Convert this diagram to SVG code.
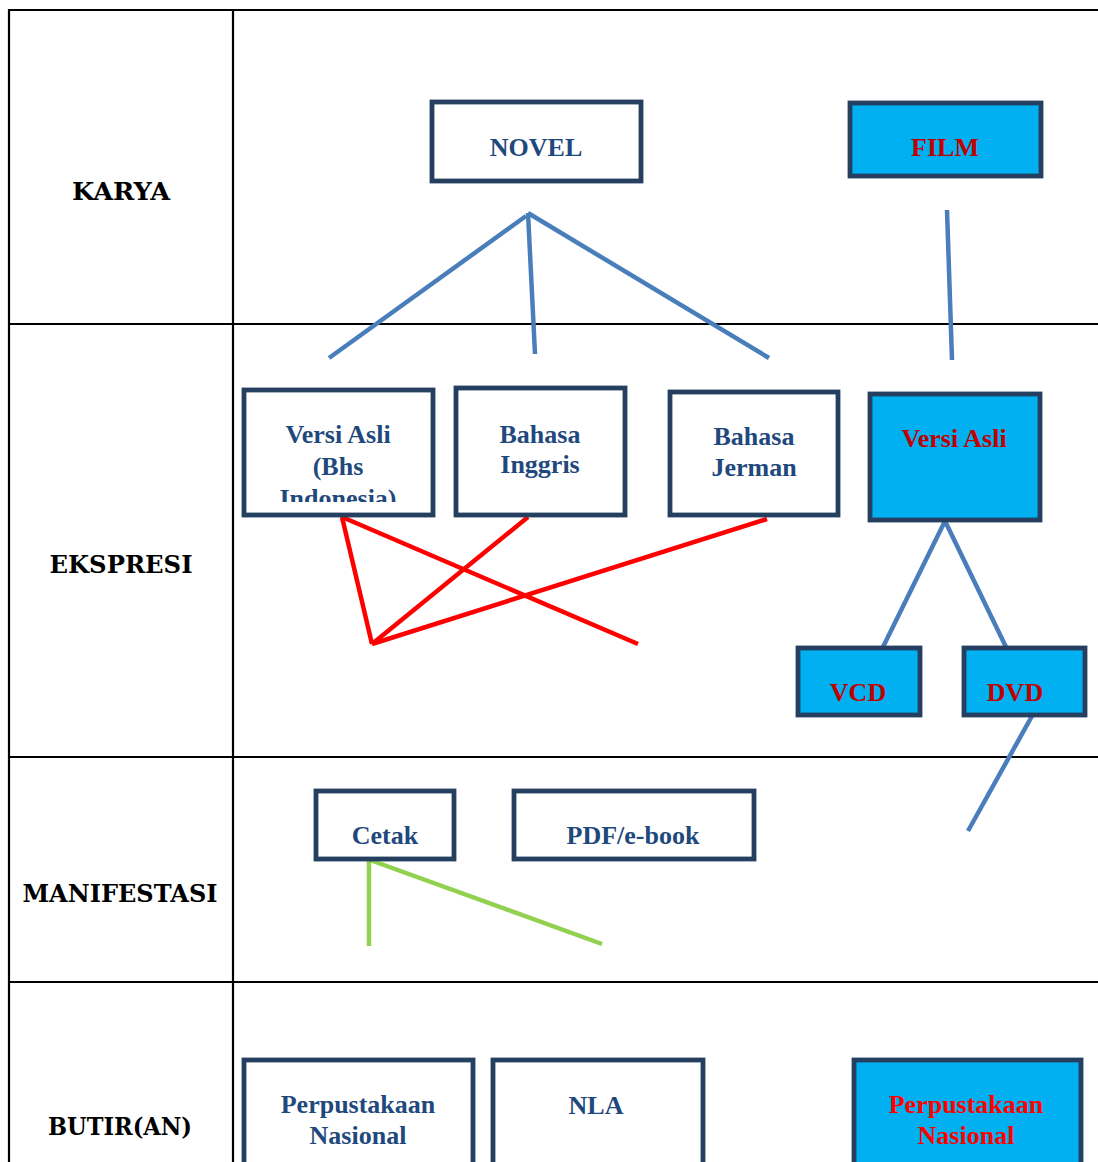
<svg xmlns="http://www.w3.org/2000/svg" width="1098" height="1162" viewBox="0 0 1098 1162">
  <style>
    .grid { stroke: #000; stroke-width: 2.2; fill: none; }
    .lvl { font-family: "DejaVu Serif", "Liberation Serif", serif; font-weight: bold; font-size: 25px; fill: #000; text-anchor: middle; }
    .box { fill: #fff; stroke: #243f60; stroke-width: 4.8; }
    .box.hi { fill: #00b0f0; }
    .t { font-family: "Liberation Serif", "Times New Roman", serif; font-weight: bold; font-size: 26px; fill: #1f497d; text-anchor: middle; }
    .t.dr { fill: #c00000; }
    .t.r { fill: #ff0000; }
    .blue { stroke: #4a7ebb; stroke-width: 4.5; fill: none; }
    .red { stroke: #ff0000; stroke-width: 4.5; fill: none; }
    .green { stroke: #92d050; stroke-width: 4.5; fill: none; }
  </style>
  <defs>
    <clipPath id="clipIndo">
      <rect x="246" y="392" width="185" height="110"/>
    </clipPath>
  </defs>
  <rect width="1098" height="1162" fill="#fff"/>

  <!-- table grid -->
  <g id="table">
    <line class="grid" x1="9" y1="10" x2="1098" y2="10"/>
    <line class="grid" x1="9" y1="324" x2="1098" y2="324"/>
    <line class="grid" x1="9" y1="757" x2="1098" y2="757"/>
    <line class="grid" x1="9" y1="982" x2="1098" y2="982"/>
    <line class="grid" x1="9" y1="9" x2="9" y2="1162"/>
    <line class="grid" x1="233" y1="9" x2="233" y2="1162"/>
  </g>

  <!-- level labels -->
  <g id="levels">
    <text class="lvl" x="121" y="200" textLength="98" lengthAdjust="spacingAndGlyphs">KARYA</text>
    <text class="lvl" x="121" y="573" textLength="143" lengthAdjust="spacingAndGlyphs">EKSPRESI</text>
    <text class="lvl" x="120" y="902" textLength="195" lengthAdjust="spacingAndGlyphs">MANIFESTASI</text>
    <text class="lvl" x="120" y="1135" textLength="144" lengthAdjust="spacingAndGlyphs">BUTIR(AN)</text>
  </g>

  <!-- connectors -->
  <g id="connectors">
    <line class="blue" x1="526" y1="216" x2="329" y2="358"/>
    <line class="blue" x1="528" y1="213" x2="535" y2="354"/>
    <line class="blue" x1="528" y1="213" x2="769" y2="358"/>
    <line class="blue" x1="947" y1="210" x2="952" y2="360"/>
    <line class="blue" x1="945" y1="521" x2="883" y2="647"/>
    <line class="blue" x1="945" y1="521" x2="1006" y2="647"/>
    <line class="blue" x1="1032" y1="716" x2="968" y2="831"/>
    <line class="red" x1="342" y1="517" x2="372" y2="644"/>
    <line class="red" x1="342" y1="517" x2="638" y2="644"/>
    <line class="red" x1="372" y1="644" x2="528" y2="517"/>
    <line class="red" x1="372" y1="644" x2="767" y2="519"/>
    <line class="green" x1="369" y1="860" x2="369" y2="946"/>
    <line class="green" x1="370" y1="860" x2="602" y2="944"/>
  </g>

  <!-- Karya -->
  <g id="novel">
    <rect class="box" x="432" y="102" width="209" height="79"/>
    <text class="t" x="536" y="156">NOVEL</text>
  </g>
  <g id="film">
    <rect class="box hi" x="850" y="103" width="191" height="73"/>
    <text class="t dr" x="945" y="156">FILM</text>
  </g>

  <!-- Ekspresi -->
  <g id="versi-asli-indonesia">
    <rect class="box" x="244" y="390" width="189" height="125"/>
    <g clip-path="url(#clipIndo)">
      <text class="t" x="338" y="443">Versi Asli</text>
      <text class="t" x="338" y="475">(Bhs</text>
      <text class="t" x="338" y="507">Indonesia)</text>
    </g>
  </g>
  <g id="bahasa-inggris">
    <rect class="box" x="456" y="388" width="169" height="127"/>
    <text class="t" x="540" y="443">Bahasa</text>
    <text class="t" x="540" y="473">Inggris</text>
  </g>
  <g id="bahasa-jerman">
    <rect class="box" x="670" y="392" width="168" height="123"/>
    <text class="t" x="754" y="445">Bahasa</text>
    <text class="t" x="754" y="476">Jerman</text>
  </g>
  <g id="versi-asli-film">
    <rect class="box hi" x="870" y="394" width="170" height="126"/>
    <text class="t dr" x="954" y="447">Versi Asli</text>
  </g>
  <g id="vcd">
    <rect class="box hi" x="798" y="648" width="122" height="67"/>
    <text class="t dr" x="858" y="701">VCD</text>
  </g>
  <g id="dvd">
    <rect class="box hi" x="964" y="648" width="121" height="67"/>
    <text class="t dr" x="1015" y="701">DVD</text>
  </g>

  <!-- Manifestasi -->
  <g id="cetak">
    <rect class="box" x="316" y="791" width="138" height="68"/>
    <text class="t" x="385" y="844">Cetak</text>
  </g>
  <g id="pdf-ebook">
    <rect class="box" x="514" y="791" width="240" height="68"/>
    <text class="t" x="633" y="844">PDF/e-book</text>
  </g>

  <!-- Butir(an) -->
  <g id="perpusnas">
    <rect class="box" x="244" y="1060" width="229" height="120"/>
    <text class="t" x="358" y="1113">Perpustakaan</text>
    <text class="t" x="358" y="1144">Nasional</text>
  </g>
  <g id="nla">
    <rect class="box" x="493" y="1060" width="210" height="120"/>
    <text class="t" x="596" y="1114">NLA</text>
  </g>
  <g id="perpusnas-film">
    <rect class="box hi" x="854" y="1060" width="227" height="120"/>
    <text class="t r" x="966" y="1113">Perpustakaan</text>
    <text class="t r" x="966" y="1144">Nasional</text>
  </g>
</svg>
